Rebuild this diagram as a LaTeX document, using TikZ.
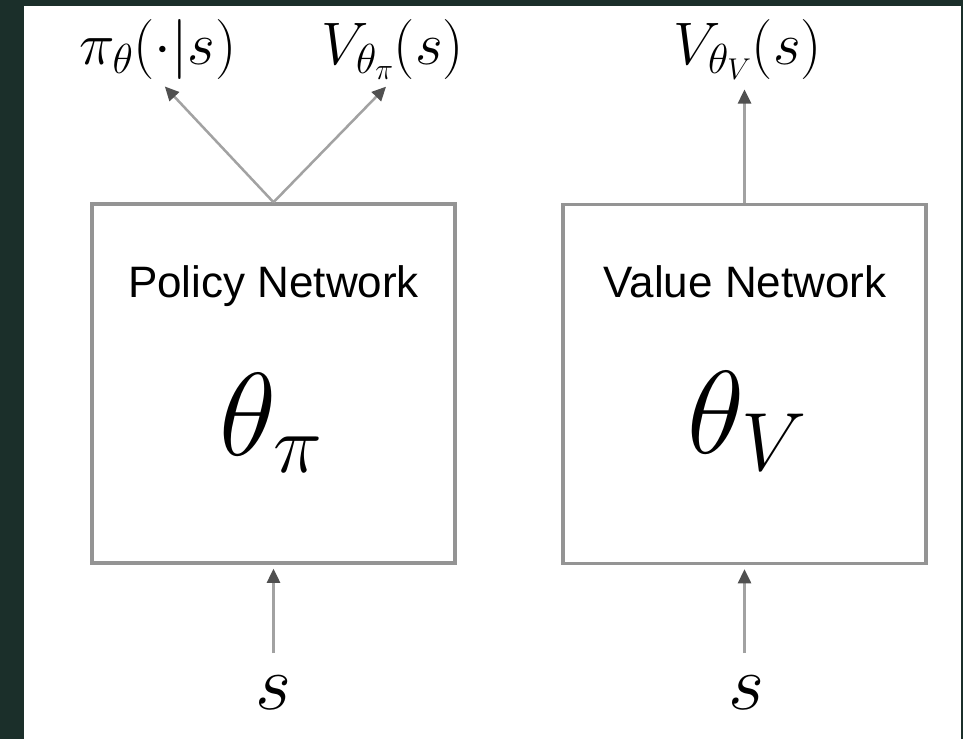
\RequirePackage{fix-cm}
\documentclass[tikz,border=0pt]{standalone}
\usepackage{fontspec}
\newfontfamily\arialf{Liberation Sans}
\usetikzlibrary{arrows.meta}
\definecolor{bggreen}{HTML}{1B2F2A}
\definecolor{boxgray}{HTML}{949494}
\definecolor{linegray}{HTML}{A2A2A2}
\definecolor{headgray}{HTML}{505050}
\begin{document}
\begin{tikzpicture}[x=1pt,y=-1pt,
  netbox/.style={draw=boxgray, line width=3.5pt, minimum width=363pt, minimum height=359pt, inner sep=0pt},
  nettitle/.style={font=\arialf\fontsize{44}{50}\selectfont, text=black, inner sep=0pt, anchor=base},
  param/.style={font=\fontsize{118}{120}\selectfont, inner sep=0pt, anchor=base},
  outlbl/.style={font=\fontsize{60}{64}\selectfont, inner sep=0pt, anchor=base},
  inlbl/.style={font=\fontsize{78}{80}\selectfont, inner sep=0pt, anchor=base},
  flow/.style={draw=linegray, line width=2.5pt, -{Triangle[length=14pt,width=13pt,color=headgray,fill=headgray]}}]
\fill[bggreen] (0,0) rectangle (963,739);
\fill[white] (24,6) rectangle (961,739);
\useasboundingbox (0,0) rectangle (963,739);
% boxes
\node[netbox] (pol) at (273.5,383.5) {};
\node[netbox] (val) at (744.5,384) {};
\node[nettitle] (poltitle) at (273.5,297) {Policy Network};
\node[nettitle] (valtitle) at (745,297) {Value Network};
\node[param] (polpar) at (271,455) {$\theta_\pi$};
\node[param] (valpar) at (747,453) {$\theta_V$};
% outputs
\node[outlbl] (pi) at (158,64) {$\pi_\theta(\cdot|s)$};
\node[outlbl] (vpi) at (393,64) {$V_{\theta_\pi}(s)$};
\node[outlbl] (vv) at (748,64) {$V_{\theta_V}(s)$};
% inputs
\node[inlbl] (s1) at (273,709) {$s$};
\node[inlbl] (s2) at (746,709) {$s$};
% connectors
\draw[flow, shorten >=10pt] (pol.north) -- (pi.south);
\draw[flow, shorten >=10pt] (pol.north) -- (vpi.south);
\draw[flow, shorten >=10pt] (val.north) -- (val.north |- vv.south);
\draw[flow, shorten <=22pt, shorten >=4pt] (pol.south |- s1.north) -- (pol.south);
\draw[flow, shorten <=22pt, shorten >=4pt] (val.south |- s2.north) -- (val.south);
\end{tikzpicture}
\end{document}
